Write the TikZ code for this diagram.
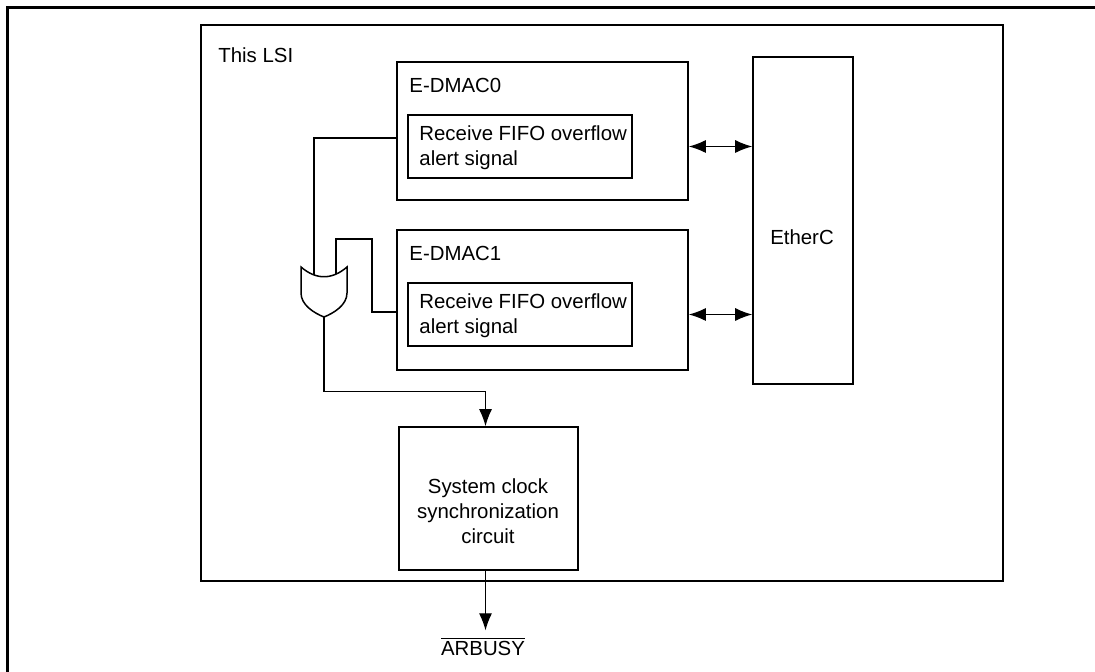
\documentclass[tikz,border=0pt]{standalone}
\usepackage{fontspec}
\setmainfont{Liberation Sans}
\usetikzlibrary{arrows.meta,fit}
\begin{document}
\begin{tikzpicture}[
x=0.5pt,y=-0.5pt,
font=\fontsize{10.2}{12.4}\selectfont,
box/.style={draw,line width=0.85pt,inner sep=0pt},
txt/.style={anchor=base west,inner sep=0pt},
multi/.style={inner sep=0pt,align=left,anchor=west},
sig/.style={line width=0.55pt},
arr/.style={sig,-{Latex[length=8.5pt,width=6.5pt]}},
darr/.style={sig,{Latex[length=8.5pt,width=6.5pt]}-{Latex[length=8.5pt,width=6.5pt]}},
gate/.style={draw,fill=white,line width=0.75pt}
]
\useasboundingbox (0,0) rectangle (1095,672);
\draw[line width=1.3pt] (7.5,672) -- (7.5,7.5) -- (1095,7.5);

\node[box,fit={(201,25)(1003,581)}] (lsi) {};
\node[txt] (lsiname) at (218,63) {This LSI};

\node[box,fit={(397,62)(688,200)}] (dmac0) {};
\node[txt] (dmac0name) at (409,93) {E-DMAC0};
\node[box,fit={(408,115)(632,178)}] (rfo0) {};
\node[multi] (rfo0text) at (419,148) {Receive FIFO overflow\\alert signal};

\node[box,fit={(397,230)(688,370)}] (dmac1) {};
\node[txt] (dmac1name) at (409,261) {E-DMAC1};
\node[box,fit={(408,283)(632,346)}] (rfo1) {};
\node[multi] (rfo1text) at (419,316) {Receive FIFO overflow\\alert signal};

\node[box,fit={(753,57)(853,384)}] (etherc) {};
\node (ethername) at (802,237) {EtherC};

\node[box,fit={(399,427)(578,570)}] (sync) {};
\node[inner sep=0pt,align=center] (synctext) at (488,511) {System clock\\synchronization\\circuit};

\node[anchor=base,inner xsep=0pt,inner ysep=3pt] (arbusy) at (483,655) {$\overline{\mbox{ARBUSY}}$};

\coordinate (gin1) at (314,285);
\coordinate (gin2) at (336,285);
\coordinate (gout) at (324,317);
\coordinate (bend) at (372,239);

\draw[darr] (rfo0.east -| dmac0.east) -- (rfo0.east -| etherc.west);
\draw[darr] (rfo1.east -| dmac1.east) -- (rfo1.east -| etherc.west);

\draw[sig] ([yshift=-3.5pt]dmac0.west) -| (gin1);
\draw[sig] (gin2) |- (bend) |- ([yshift=-6pt]dmac1.west);
\draw[gate] (301,267) .. controls (316,280) and (332,280) .. (347,267) -- (347,293)
  .. controls (347,305) and (334,313) .. (gout)
  .. controls (314,313) and (301,305) .. (301,293) -- cycle;
\draw[arr] (gout) |- ([xshift=-1.5pt,yshift=17.5pt]sync.north) -- ([xshift=-1.5pt]sync.north);
\draw[arr] ([xshift=-1.5pt]sync.south) -- ([xshift=-1.5pt]sync.south |- arbusy.north);
\end{tikzpicture}
\end{document}
